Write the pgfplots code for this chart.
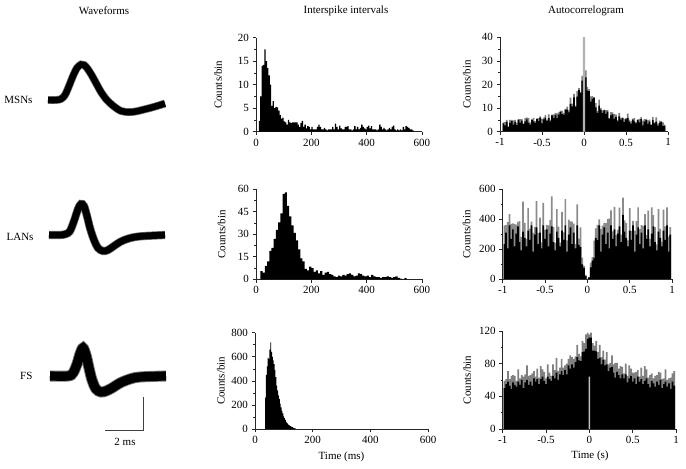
\documentclass[border=0pt]{standalone}
\usepackage{fontspec}
\setmainfont{Liberation Serif}
\usepackage{pgfplots}
\pgfplotsset{compat=1.18}
\usepackage{pgfplotstable}
\newcommand{\tk}{\fontsize{11bp}{13bp}\selectfont}
\newcommand{\lab}{\fontsize{11bp}{13bp}\selectfont}

\pgfplotstableread{
t c
10 2.3
15 7.5
20 14
25 14.2
30 17.5
35 15
40 13.5
45 12
50 10
55 5.5
60 6.5
65 5
70 5.3
75 5.2
80 4.5
85 3.5
90 2.8
95 3
100 2.2
105 2
110 1.5
115 2.5
120 2
125 1.8
130 2
135 2
140 2
145 2
150 1.5
155 1
160 1.8
165 2.3
170 1
175 1.5
180 0.7
185 1.2
190 1
195 0.5
200 1
205 0.5
210 0.5
215 0.5
220 1
225 1.5
230 1
235 0.5
240 0.5
245 0.8
250 0.5
255 0.3
260 0.5
265 0.5
270 0.5
275 1
280 0.5
285 1.7
290 1
295 0.5
300 1.3
305 0.7
310 0.5
315 0.5
320 1
325 1
330 1.2
335 0.5
340 0.5
345 0.3
350 0.5
355 1.2
360 0.5
365 1
370 0.5
375 0.8
380 1.5
385 1
390 0.7
395 0.5
400 1
405 1.3
410 0.7
415 1.2
420 0.5
425 0.5
430 0.5
435 0.3
440 0.5
445 1.5
450 1
455 0.5
460 0.8
465 0.5
470 0.3
475 0.5
480 0.8
485 0.5
490 1
495 1.3
500 0.5
505 0.3
510 0.5
515 0.3
520 0.5
525 0.3
530 1
535 0.5
540 1.2
545 1
550 0.8
555 0.5
560 0.5
565 0.3
570 0
}\isiA

\pgfplotstableread{
t c
16 5.5
24 4.5
32 9
40 12
48 19
56 21
64 27
72 33
80 38
88 44
96 57
104 58
112 49
120 42
128 36
136 31
144 26
152 20
160 14
168 12
176 7
184 6
192 8.5
200 7.5
208 5
216 6
224 4
232 5.5
240 3
248 4.5
256 5
264 3.5
272 3
280 2
288 1.5
296 2.5
304 2
312 3
320 2.5
328 3.5
336 4
344 3
352 2
360 2.5
368 4
376 3.5
384 2.5
392 2
400 2.5
408 1.5
416 3
424 2
432 1.5
440 1.5
448 1
456 1.5
464 1.5
472 2
480 1.5
488 1
496 1.5
504 2
512 1
520 0.5
528 0
536 0.8
544 0
}\isiB

\pgfplotstableread{
t c
35 260
38 450
41 520
44 590
47 580
50 660
53 720
56 640
59 600
62 570
65 540
68 490
71 430
74 360
77 320
80 280
83 250
86 210
89 180
92 150
95 130
98 105
101 90
104 75
107 60
110 50
113 40
116 33
119 28
122 24
125 18
128 15
131 12
134 8
137 5
140 3
143 0
}\isiC

\pgfplotstableread{
x g1 b1 g2 b2 g3 b3
-0.99 0 0 359 234 59 50
-0.97 4.0 3.5 361 311 61 55
-0.95 4.2 2.7 381 206 71 58
-0.93 5.0 4.2 435 360 61 53
-0.91 2.3 2.0 369 269 65 49
-0.89 5.0 3.7 372 332 66 57
-0.87 5.0 4.5 370 220 65 54
-0.85 4.8 3.0 364 304 59 52
-0.83 5.0 4.2 383 353 73 58
-0.81 3.8 2.8 388 248 62 54
-0.79 5.4 5.0 282 192 66 60
-0.77 5.3 3.8 518 318 64 50
-0.75 5.3 4.7 376 276 67 57
-0.73 3.5 3.2 270 220 78 60
-0.71 5.8 4.4 475 325 65 54
-0.69 6.1 5.2 337 262 66 58
-0.67 5.8 3.8 385 360 68 53
-0.65 4.0 3.0 310 185 71 62
-0.63 5.4 4.9 347 297 64 58
-0.61 5.9 4.4 521 346 74 61
-0.59 4.5 3.7 309 234 63 55
-0.57 5.6 5.3 411 311 77 61
-0.55 5.8 4.5 246 206 73 64
-0.53 6.5 6.0 510 360 70 59
-0.51 5.3 3.5 329 269 62 55
-0.49 6.0 5.2 362 332 79 64
-0.47 7.0 6.0 360 220 69 61
-0.45 5.0 4.6 394 304 65 59
-0.43 7.3 5.8 553 353 79 65
-0.41 5.0 4.4 348 248 72 62
-0.39 7.2 6.9 242 192 87 69
-0.37 7.3 5.9 468 318 71 60
-0.35 8.0 7.1 351 276 75 67
-0.33 7.8 5.8 245 220 86 71
-0.31 8.2 7.2 450 325 75 66
-0.29 8.9 8.4 312 262 78 72
-0.27 8.9 7.4 535 360 80 67
-0.25 7.9 7.1 260 185 86 78
-0.23 9.7 9.4 397 297 90 74
-0.21 10.6 9.3 386 346 88 79
-0.19 9.0 8.2 384 234 86 75
-0.17 14.4 11.8 371 311 89 82
-0.15 11.9 10.7 236 206 103 88
-0.13 16.0 14.5 500 360 92 84
-0.11 11.1 10.5 271 229 89 83
-0.09 17.2 14.9 346 216 108 94
-0.07 18.5 17.6 144 99 105 95
-0.05 16.9 16.4 89 76 116 98
-0.03 23.7 21.6 30 21 118 110
-0.01 45 0 5 0 116 112
0.01 26 23 13 12 118 112
0.03 18.9 17.4 111 80 105 96
0.05 18.0 17.2 147 124 102 96
0.07 15.0 12.7 257 143 108 95
0.09 15.1 13.9 340 276 94 86
0.11 14.7 14.3 362 262 103 87
0.13 12.2 10.3 400 360 88 79
0.15 8.8 8.0 335 185 96 85
0.17 13.6 11.0 357 297 85 78
0.19 10.1 9.3 376 346 94 79
0.21 9.0 8.0 374 234 79 71
0.23 9.4 9.0 401 311 81 75
0.25 9.1 7.6 406 206 90 76
0.27 9.1 8.5 460 360 79 69
0.29 5.8 5.5 319 269 81 63
0.31 8.3 6.9 482 332 81 70
0.33 8.2 7.3 295 220 74 66
0.35 7.4 5.4 329 304 77 62
0.37 7.2 6.2 478 353 76 67
0.39 4.9 4.4 298 248 68 62
0.41 8.0 6.5 545 430 80 67
0.43 5.9 5.1 393 318 65 57
0.45 6.1 5.8 376 276 78 62
0.47 5.4 4.1 260 220 74 65
0.49 5.7 5.2 475 325 69 58
0.51 7.7 5.9 322 262 69 62
0.53 5.1 4.3 390 360 70 55
0.55 4.4 3.4 325 185 72 64
0.57 5.5 5.1 387 297 64 58
0.59 5.9 4.4 480 346 75 61
0.61 4.1 3.5 334 234 65 55
0.63 5.2 4.9 361 311 77 59
0.65 5.4 4.0 356 206 73 62
0.67 6.2 5.3 435 360 63 55
0.69 4.7 2.7 294 269 66 51
0.71 5.3 4.3 457 332 68 59
0.73 5.4 4.9 270 220 62 56
0.75 4.8 3.3 479 304 65 52
0.77 5.1 4.3 428 353 66 58
0.79 3.1 2.8 348 248 70 54
0.81 6.2 4.9 232 192 69 60
0.83 4.0 3.5 468 318 61 50
0.85 6.1 4.3 336 276 62 55
0.87 3.4 2.6 250 220 73 58
0.89 4.7 3.7 465 325 60 52
0.91 4.5 4.1 352 262 62 56
0.93 4.0 2.5 480 360 63 49
0.95 3.0 2.5 285 185 68 58
0.97 0 0 347 297 71 53
0.99 0 0 0 0 0 0
}\actab

\pgfplotsset{
  panel/.style={
    scale only axis, anchor=south west,
    axis lines=left, axis line style={-, line width=0.7bp, black!85},
    tick align=outside, major tick length=3.5bp, minor tick length=2bp,
    every tick/.style={line width=0.6bp, black!85},
    minor y tick num=1, ymin=0,
    tick label style={font=\tk}, label style={font=\lab},
    /pgf/number format/assume math mode=true,
    ylabel={Counts/bin},
  },
  isi/.style={panel, xmin=0, xmax=600, xtick={0,200,400,600}},
  ac/.style={panel, xmin=-1, xmax=1, xtick={-1,-0.5,0,0.5,1}, xticklabels={-1,-0.5,0,0.5,1}},
  ylab/.style={ylabel style={at={(axis description cs:#1,0.5)}, anchor=center}},
}

\begin{document}
\begin{tikzpicture}
\useasboundingbox (0,0) rectangle (686bp,469bp);

% waveforms, scale bar and row/column titles
\begin{axis}[at={(0,0)}, anchor=south west, scale only axis, width=686bp, height=469bp,
  xmin=0, xmax=686, ymin=0, ymax=469, hide axis, clip=false]
  % MSNs
  \addplot[smooth, tension=0.55, line width=7.8bp, black!55] coordinates {(48,369)(56,369)(61,370)(65,374)(69,383)(73,393)(77,401)(81,404.5)(84,404)(87,401)(91,395)(96,386)(101,377)(106,370)(111,365)(116,361)(121,358)(126,357)(132,357)(138,358)(144,359.5)(150,361)(157,363)(165,365.5)};
  \addplot[smooth, tension=0.55, line width=6.4bp, black] coordinates {(48,369)(56,369)(61,370)(65,374)(69,383)(73,393)(77,401)(81,404.5)(84,404)(87,401)(91,395)(96,386)(101,377)(106,370)(111,365)(116,361)(121,358)(126,357)(132,357)(138,358)(144,359.5)(150,361)(157,363)(165,365.5)};
  % LANs
  \addplot[smooth, tension=0.55, line width=8.2bp, black!55] coordinates {(49,234)(60,234)(66,235)(70,238)(74,248)(78,260)(81,265)(84,263)(87,253)(90,241)(94,229)(98,221)(103,218)(108,219)(114,223)(120,227)(127,230)(135,232)(145,233)(165,234)};
  \addplot[smooth, tension=0.55, line width=6.8bp, black] coordinates {(49,234)(60,234)(66,235)(70,238)(74,248)(78,260)(81,265)(84,263)(87,253)(90,241)(94,229)(98,221)(103,218)(108,219)(114,223)(120,227)(127,230)(135,232)(145,233)(165,234)};
  % FS
  \addplot[smooth, tension=0.55, line width=11bp, black!55] coordinates {(50,93)(68,93)(73,96)(77,105)(80,115)(83,121)(86,114)(89,101)(92,89)(96,80)(101,77)(106,78)(112,81)(120,86)(130,90)(140,92)(166,93)};
  \addplot[smooth, tension=0.55, line width=9.2bp, black] coordinates {(50,93)(68,93)(73,96)(77,105)(80,115)(83,121)(86,114)(89,101)(92,89)(96,80)(101,77)(106,78)(112,81)(120,86)(130,90)(140,92)(166,93)};
  % scale bar
  \addplot[line width=0.8bp, black!75] coordinates {(105,39)(143,39)(143,72)};
  \node[font=\lab] at (axis cs:125,27) {2 ms};
  \node[font=\lab, anchor=east] at (axis cs:36,369) {MSNs};
  \node[font=\lab, anchor=east] at (axis cs:37,232) {LANs};
  \node[font=\lab, anchor=east] at (axis cs:36,93) {FS};
  \node[font=\lab] at (axis cs:104,458) {Waveforms};
  \node[font=\lab] at (axis cs:346,458) {Interspike intervals};
  \node[font=\lab] at (axis cs:586,458) {Autocorrelogram};
\end{axis}

% row 1
\begin{axis}[isi, at={(256bp,337.3bp)}, width=166bp, height=94bp, ymax=20, ytick={0,5,10,15,20}, ylab=-0.229]
  \addplot[const plot, fill=black, draw=none] table[x=t, y=c] {\isiA} \closedcycle;
\end{axis}
\begin{axis}[ac, at={(500bp,337.3bp)}, width=168bp, height=94.4bp, ymax=40, ytick={0,10,20,30,40}, ylab=-0.198]
  \addplot[const plot, fill=black!50, draw=none] table[x=x, y=g1] {\actab} \closedcycle;
  \addplot[const plot, fill=black, draw=none] table[x=x, y=b1] {\actab} \closedcycle;
  \addplot[const plot, fill=black!30, draw=none] coordinates {(-0.012,45)(0.012,45)} \closedcycle;
\end{axis}

% row 2
\begin{axis}[isi, at={(256bp,189.7bp)}, width=166bp, height=90bp, ymax=60, ytick={0,15,30,45,60}, ylab=-0.207]
  \addplot[const plot, fill=black, draw=none] table[x=t, y=c] {\isiB} \closedcycle;
\end{axis}
\begin{axis}[ac, at={(502.7bp,189.7bp)}, width=169.3bp, height=90bp, ymax=600, ytick={0,200,400,600}, ylab=-0.213]
  \addplot[const plot, fill=black!45, draw=none] table[x=x, y=g2] {\actab} \closedcycle;
  \addplot[const plot, fill=black, draw=none] table[x=x, y=b2] {\actab} \closedcycle;
\end{axis}

% row 3
\begin{axis}[isi, at={(255bp,40bp)}, width=173bp, height=96.3bp, ymax=800, ytick={0,200,400,600,800}, ylab=-0.197,
  xlabel={Time (ms)}, xlabel style={at={(axis description cs:0.5,-0.288)}, anchor=center}]
  \addplot[const plot, fill=black, draw=none] table[x=t, y=c] {\isiC} \closedcycle;
\end{axis}
\begin{axis}[ac, at={(502.7bp,40bp)}, width=173.3bp, height=98bp, ymax=120, ytick={0,40,80,120}, ylab=-0.206,
  xlabel={Time (s)}, xlabel style={at={(axis description cs:0.504,-0.276)}, anchor=center}]
  \addplot[const plot, fill=black!50, draw=none] table[x=x, y=g3] {\actab} \closedcycle;
  \addplot[const plot, fill=black, draw=none] table[x=x, y=b3] {\actab} \closedcycle;
  \addplot[const plot, fill=black!25, draw=none] coordinates {(-0.008,64)(0.008,64)} \closedcycle;
\end{axis}
\end{tikzpicture}
\end{document}
